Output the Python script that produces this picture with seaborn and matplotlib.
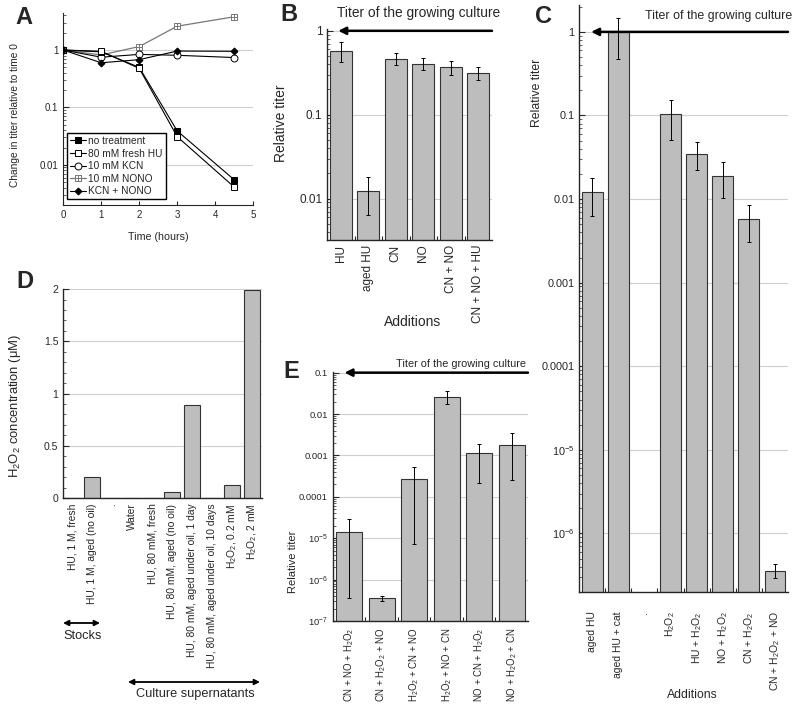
import numpy as np
import pandas as pd
import seaborn as sns
import matplotlib.pyplot as plt
from matplotlib.path import Path
from matplotlib.ticker import FixedLocator, FixedFormatter, LogLocator, MultipleLocator, NullFormatter

sns.set_style('ticks')
plt.rcParams['font.family'] = ['Liberation Sans', 'DejaVu Sans']
plt.rcParams['mathtext.fontset'] = 'custom'
plt.rcParams['mathtext.rm'] = 'Liberation Sans'
plt.rcParams['mathtext.it'] = 'Liberation Sans:italic'
plt.rcParams['mathtext.default'] = 'regular'

# ---- panel A: titer over time ----
time_h = [0, 1, 2, 3, 4.5]
no_treatment = [1.0, 0.93, 0.50, 0.039, 0.0055]
fresh_hu = [1.0, 0.95, 0.48, 0.031, 0.0041]
kcn = [1.0, 0.75, 0.84, 0.81, 0.74]
nono = [1.0, 0.82, 1.15, 2.6, 3.8]
kcn_nono = [1.0, 0.60, 0.68, 0.96, 0.95]

# ---- panel B ----
b_labels = ['HU', 'aged HU', 'CN', 'NO', 'CN + NO', 'CN + NO + HU']
b_titer = [0.57, 0.0122, 0.46, 0.40, 0.37, 0.315]
b_low = [0.43, 0.0063, 0.39, 0.34, 0.30, 0.26]
b_high = [0.74, 0.018, 0.54, 0.48, 0.44, 0.37]

# ---- panel C ----
c_labels = ['aged HU', 'aged HU + cat', '.', 'H$_2$O$_2$', 'HU + H$_2$O$_2$',
            'NO + H$_2$O$_2$', 'CN + H$_2$O$_2$', 'CN + H$_2$O$_2$ + NO']
c_titer = [0.012, 1.0, np.nan, 0.103, 0.035, 0.019, 0.0057, 3.6e-7]
c_low = [0.0063, 0.48, np.nan, 0.051, 0.022, 0.0104, 0.0031, 2.9e-7]
c_high = [0.018, 1.45, np.nan, 0.155, 0.048, 0.028, 0.0084, 4.3e-7]

# ---- panel D ----
d_labels = ['HU, 1 M, fresh', 'HU, 1 M, aged (no oil)', '.', 'Water',
            'HU, 80 mM, fresh', 'HU, 80 mM, aged (no oil)',
            'HU, 80 mM, aged under oil, 1 day', 'HU, 80 mM, aged under oil, 10 days',
            'H$_2$O$_2$, 0.2 mM', 'H$_2$O$_2$, 2 mM']
d_h2o2 = [0.0, 0.205, 0.0, 0.0, 0.0, 0.06, 0.89, 0.0, 0.12, 1.99]

# ---- panel E ----
e_labels = ['CN + NO + H$_2$O$_2$', 'CN + H$_2$O$_2$ + NO', 'H$_2$O$_2$ + CN + NO',
            'H$_2$O$_2$ + NO + CN', 'NO + CN + H$_2$O$_2$', 'NO + H$_2$O$_2$ + CN']
e_titer = [1.45e-5, 3.6e-7, 2.7e-4, 0.026, 1.12e-3, 1.8e-3]
e_low = [3.6e-7, 3.0e-7, 7.2e-6, 0.017, 2.2e-4, 2.5e-4]
e_high = [2.9e-5, 4.1e-7, 5.2e-4, 0.036, 1.9e-3, 3.4e-3]

BAR = '#bdbdbd'
GRID = '#cfcfcf'

fig = plt.figure(figsize=(8, 7.08), dpi=100)


def log_ticks(ax, ticks, labels, size):
    ax.yaxis.set_major_locator(FixedLocator(ticks))
    ax.yaxis.set_major_formatter(FixedFormatter(labels))
    ax.yaxis.set_minor_locator(LogLocator(base=10, subs=np.arange(2, 10), numticks=20))
    ax.yaxis.set_minor_formatter(NullFormatter())
    ax.tick_params(axis='y', which='major', labelsize=size, length=4, width=0.8, direction='in')
    ax.tick_params(axis='y', which='minor', length=2, width=0.5, direction='in')


def bars(ax, labels, vals, lo=None, hi=None, log=True, xsize=7.5):
    sns.barplot(x=labels, y=vals, ax=ax, color=BAR, saturation=1, edgecolor='#333333',
                linewidth=0.8, width=0.8, errorbar=None, zorder=2)
    if log:
        ax.set_yscale('log')
    if lo is not None:
        v = np.array(vals, dtype=float)
        err = [v - np.array(lo), np.array(hi) - v]
        ax.errorbar(np.arange(len(labels)), v, yerr=err, fmt='none', ecolor='k',
                    elinewidth=0.7, capsize=1.5, capthick=0.7, zorder=3)
    ax.set_xlim(-0.5, len(labels) - 0.5)
    ax.set_xlabel('')
    ax.tick_params(axis='x', labelrotation=90, labelsize=xsize, length=0)
    ax.xaxis.set_minor_locator(FixedLocator(np.arange(0.5, len(labels) - 0.5)))
    ax.tick_params(axis='x', which='minor', length=3, direction='in', width=0.8)
    ax.yaxis.grid(True, which='major', color=GRID, lw=0.8)
    ax.set_axisbelow(True)
    sns.despine(ax=ax)
    for s in ax.spines.values():
        s.set_linewidth(1.0)


def titer_arrow(ax, x0, size, tx, ty, yval):
    tr = ax.get_yaxis_transform()
    ax.annotate('', xy=(x0, yval), xycoords=tr, xytext=(1.0, yval), textcoords=tr,
                arrowprops=dict(arrowstyle='-|>', color='k', lw=1.8, mutation_scale=11,
                                shrinkA=0, shrinkB=0), annotation_clip=False)
    fig.text(tx, ty, 'Titer of the growing culture', fontsize=size, ha='center', va='center')


# ================= A =================
axA = fig.add_axes([0.079, 0.7105, 0.2375, 0.271])
boxplus = Path([(-1, -1), (1, -1), (1, 1), (-1, 1), (-1, -1), (0, -1), (0, 1), (-1, 0), (1, 0)],
               [Path.MOVETO, Path.LINETO, Path.LINETO, Path.LINETO, Path.CLOSEPOLY,
                Path.MOVETO, Path.LINETO, Path.MOVETO, Path.LINETO])
sns.lineplot(x=time_h, y=nono, ax=axA, color='#777777', lw=0.9, marker=boxplus, markersize=5,
             markerfacecolor='white', markeredgecolor='#777777', markeredgewidth=0.7,
             label='10 mM NONO', zorder=3)
sns.lineplot(x=time_h, y=kcn, ax=axA, color='k', lw=0.8, marker='o', markersize=5,
             markerfacecolor='white', markeredgecolor='k', markeredgewidth=0.7,
             label='10 mM KCN', zorder=4)
sns.lineplot(x=time_h, y=no_treatment, ax=axA, color='k', lw=0.8, marker='s', markersize=4.8,
             markerfacecolor='k', markeredgecolor='k', label='no treatment', zorder=5)
sns.lineplot(x=time_h, y=fresh_hu, ax=axA, color='k', lw=0.8, marker='s', markersize=4.8,
             markerfacecolor='white', markeredgecolor='k', markeredgewidth=0.7,
             label='80 mM fresh HU', zorder=6)
sns.lineplot(x=time_h, y=kcn_nono, ax=axA, color='k', lw=0.8, marker='D', markersize=3.5,
             markerfacecolor='k', markeredgecolor='k', label='KCN + NONO', zorder=7)
axA.set_yscale('log')
axA.set_ylim(0.002, 4.4)
axA.set_xlim(0, 5)
axA.xaxis.set_major_locator(MultipleLocator(1))
axA.tick_params(axis='x', labelsize=7, length=3, direction='in')
log_ticks(axA, [1, 0.1, 0.01], ['1', '0.1', '0.01'], 7)
axA.yaxis.grid(True, which='major', color=GRID, lw=0.8)
axA.set_axisbelow(True)
sns.despine(ax=axA)
axA.set_xlabel('Time (hours)', fontsize=7.7)
axA.xaxis.set_label_coords(0.5, -0.14)
axA.set_ylabel('Change in titer relative to time 0', fontsize=7.3)
axA.yaxis.set_label_coords(-0.226, 0.469)
h, l = axA.get_legend_handles_labels()
order = ['no treatment', '80 mM fresh HU', '10 mM KCN', '10 mM NONO', 'KCN + NONO']
hd = dict(zip(l, h))
axA.legend([hd[k] for k in order], order, loc='lower left', bbox_to_anchor=(0.02, 0.03),
           fontsize=7.3, frameon=True, fancybox=False, edgecolor='k', framealpha=1,
           handlelength=1.6, handletextpad=0.2, borderpad=0.3, labelspacing=0.25,
           borderaxespad=0)

# ================= B =================
axB = fig.add_axes([0.409, 0.661, 0.206, 0.298])
bars(axB, b_labels, b_titer, b_low, b_high, xsize=8.5)
axB.set_ylim(0.0032, 1.05)
log_ticks(axB, [1, 0.1, 0.01], ['1', '0.1', '0.01'], 8.5)
axB.set_ylabel('Relative titer', fontsize=10)
axB.yaxis.set_label_coords(-0.236, 0.555)
titer_arrow(axB, 0.067, 9.9, 0.523, 0.982, 1.0)
fig.text(0.516, 0.545, 'Additions', fontsize=10, ha='center', va='center')

# ================= C =================
axC = fig.add_axes([0.724, 0.164, 0.261, 0.829])
bars(axC, c_labels, c_titer, c_low, c_high, xsize=7.5)
axC.set_ylim(2e-7, 2.1)
log_ticks(axC, [1, 0.1, 0.01, 1e-3, 1e-4, 1e-5, 1e-6],
          ['1', '0.1', '0.01', '0.001', '0.0001', '$10^{-5}$', '$10^{-6}$'], 7.8)
axC.tick_params(axis='x', which='major', pad=14)
axC.set_ylabel('Relative titer', fontsize=8.8)
axC.yaxis.set_label_coords(-0.172, 0.85)
titer_arrow(axC, 0.057, 8.9, 0.898, 0.977, 1.0)
fig.text(0.865, 0.018, 'Additions', fontsize=8.8, ha='center', va='center')

# ================= D =================
axD = fig.add_axes([0.079, 0.2966, 0.249, 0.295])
bars(axD, d_labels, d_h2o2, log=False, xsize=7.4)
axD.set_xlim(-0.45, 9.5)
axD.set_ylim(0, 2.0)
axD.yaxis.set_major_locator(MultipleLocator(0.5))
axD.yaxis.set_major_formatter(FixedFormatter(['', '0', '0.5', '1', '1.5', '2']))
axD.yaxis.set_minor_locator(MultipleLocator(0.1))
axD.tick_params(axis='y', which='major', labelsize=7.5, length=4, direction='in')
axD.tick_params(axis='y', which='minor', length=2, direction='in', width=0.5)
axD.tick_params(axis='x', which='major', pad=4)
axD.xaxis.set_minor_locator(FixedLocator([]))
axD.set_ylabel('H$_2$O$_2$ concentration ($\\mu$M)', fontsize=9.4)
axD.yaxis.set_label_coords(-0.20, 0.44)
arrow_kw = dict(arrowstyle='<|-|>', color='k', lw=1.3, mutation_scale=8, shrinkA=0, shrinkB=0)
fig.add_artist(plt.Annotation('', xy=(63 / 800, 1 - 623 / 708), xycoords='figure fraction',
                              xytext=(100 / 800, 1 - 623 / 708), textcoords='figure fraction',
                              arrowprops=arrow_kw))
fig.text(83 / 800, 1 - 636 / 708, 'Stocks', fontsize=9.2, ha='center', va='center')
fig.add_artist(plt.Annotation('', xy=(128 / 800, 1 - 682 / 708), xycoords='figure fraction',
                              xytext=(260 / 800, 1 - 682 / 708), textcoords='figure fraction',
                              arrowprops=arrow_kw))
fig.text(195 / 800, 1 - 694 / 708, 'Culture supernatants', fontsize=9.2, ha='center', va='center')

# ================= E =================
axE = fig.add_axes([0.416, 0.1229, 0.244, 0.352])
bars(axE, e_labels, e_titer, e_low, e_high, xsize=6.9)
axE.set_ylim(1e-7, 0.105)
log_ticks(axE, [0.1, 0.01, 1e-3, 1e-4, 1e-5, 1e-6, 1e-7],
          ['0.1', '0.01', '0.001', '0.0001', '$10^{-5}$', '$10^{-6}$', '$10^{-7}$'], 6.8)
axE.tick_params(axis='x', which='major', pad=5)
axE.set_ylabel('Relative titer', fontsize=8)
axE.yaxis.set_label_coords(-0.18, 0.237)
titer_arrow(axE, 0.06, 7.8, 0.576, 0.486, 0.1)

# panel letters
for letter, x, y in [('A', 0.03, 0.975), ('B', 0.361, 0.980), ('C', 0.68, 0.976),
                     ('D', 0.031, 0.603), ('E', 0.364, 0.475)]:
    fig.text(x, y, letter, fontsize=17, fontweight='bold', ha='center', va='center')

fig.savefig('out.png', dpi=100)
